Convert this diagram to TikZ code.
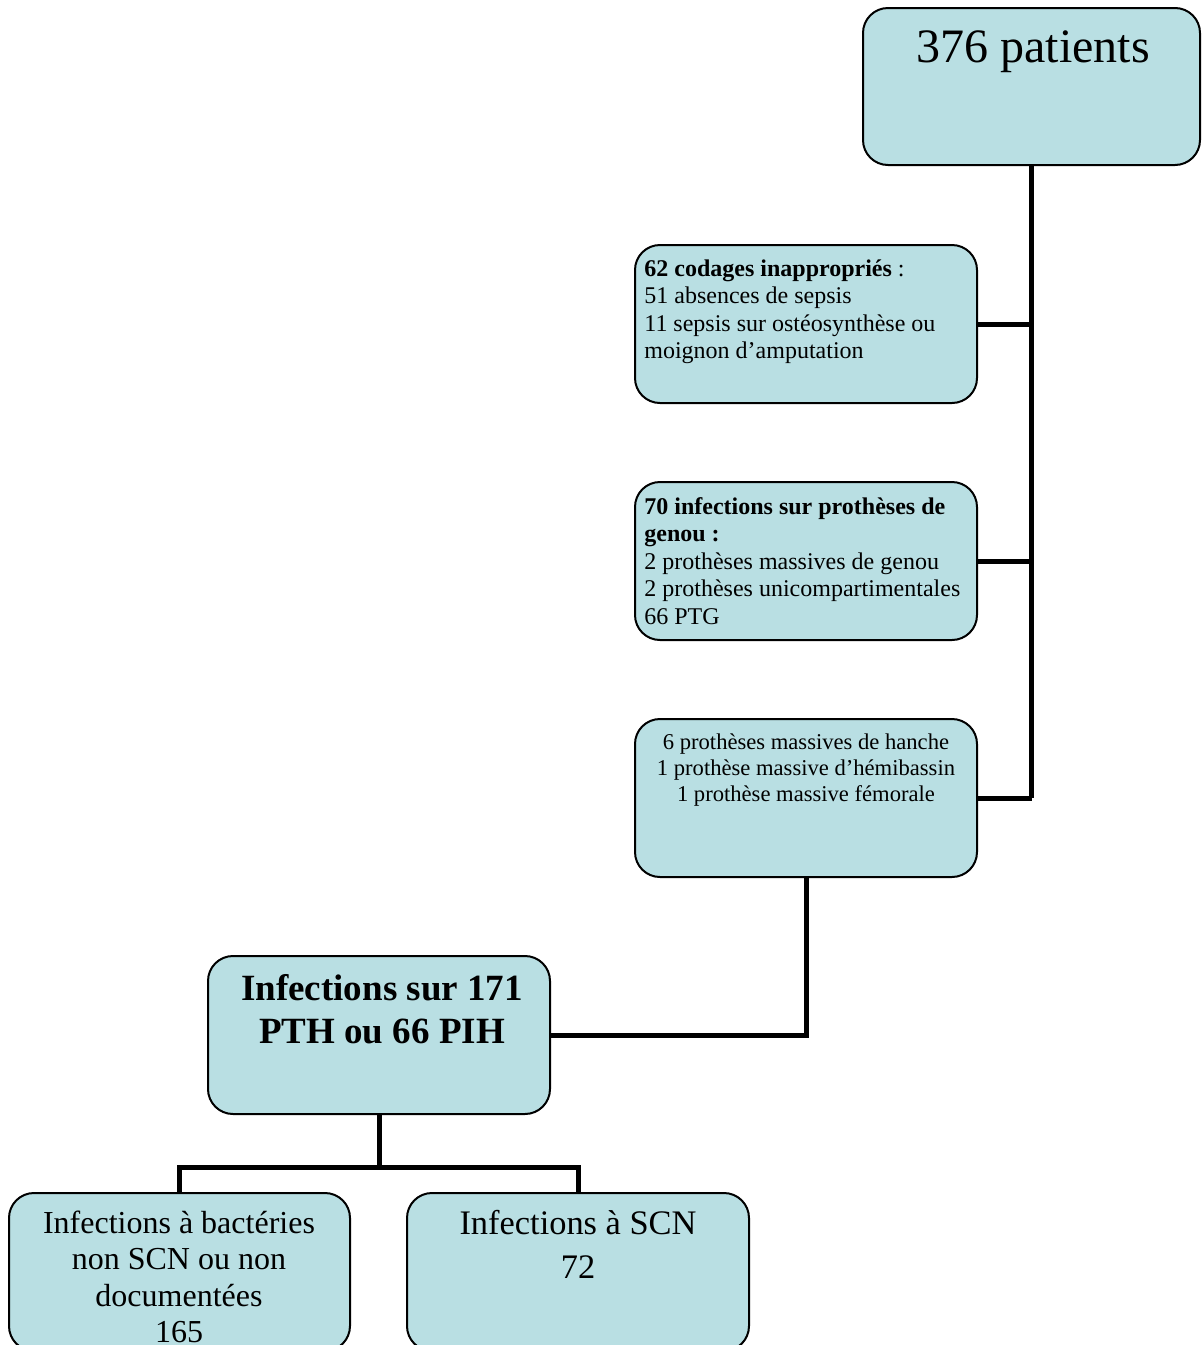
\documentclass[tikz,border=0pt]{standalone}
\usepackage{fontspec}
\setmainfont{Liberation Serif}
\definecolor{boxc}{RGB}{185,223,227}
\begin{document}
\begin{tikzpicture}[x=0.5pt,y=-0.5pt,
  bx/.style={draw=black, line width=1pt, fill=boxc, rounded corners=12.5pt, inner sep=0pt, minimum width=171pt, minimum height=79pt},
  txt/.style={inner sep=0pt},
  link/.style={line width=2.5pt, line join=miter}]
\useasboundingbox (0,0) rectangle (1201,1345);
\clip (0,0) rectangle (1201,1345);
% boxes
\node[bx, minimum width=168.5pt, minimum height=78.5pt] (top) at (1031.5,86.5) {};
\node[bx] (b2) at (806,324) {};
\node[bx] (b3) at (806,561) {};
\node[bx] (b4) at (806,798) {};
\node[bx] (b5) at (379,1035) {};
\node[bx, minimum width=170.5pt] (b6) at (179.5,1272) {};
\node[bx] (b7) at (578,1272) {};
% connectors
\draw[link] (top.south) -- (top.south |- b4.east);
\draw[link] (b2.east) -- (b2.east -| top.south);
\draw[link] (b3.east) -- (b3.east -| top.south);
\draw[link] (b4.east) -- (b4.east -| top.south);
\draw[link] (b4.south) |- (b5.east);
\coordinate (j) at (379,1167);
\draw[link] (b5.south) -- (j);
\draw[link] (b6.north) |- (j) -| (b7.north);
% texts
\node[txt, anchor=base] (t1) at (1033,62) {\fontsize{24}{28}\selectfont 376 patients};
\node[txt, anchor=base west] (t2) at (644,276) {\fontsize{12}{13.75}\selectfont\begin{tabular}[t]{@{}l@{}}\textbf{62 codages inappropriés} :\\51 absences de sepsis\\11 sepsis sur ostéosynthèse ou\\moignon d’amputation\end{tabular}};
\node[txt, anchor=base west] (t3) at (644,514) {\fontsize{12}{13.75}\selectfont\begin{tabular}[t]{@{}l@{}}\textbf{70 infections sur prothèses de}\\\textbf{genou :}\\2 prothèses massives de genou\\2 prothèses unicompartimentales\\66 PTG\end{tabular}};
\node[txt, anchor=base] (t4) at (806,749) {\fontsize{11.3}{13}\selectfont\begin{tabular}[t]{@{}c@{}}6 prothèses massives de hanche\\1 prothèse massive d’hémibassin\\1 prothèse massive fémorale\end{tabular}};
\node[txt, anchor=base] (t5) at (382,1000) {\fontsize{18.5}{21.5}\selectfont\bfseries\begin{tabular}[t]{@{}c@{}}Infections sur 171\\PTH ou 66 PIH\end{tabular}};
\node[txt, anchor=base] (t6) at (179,1233) {\fontsize{16}{18.25}\selectfont\begin{tabular}[t]{@{}c@{}}Infections à bactéries\\non SCN ou non\\documentées\\165\end{tabular}};
\node[txt, anchor=base] (t7) at (578,1234) {\fontsize{17.2}{22}\selectfont\begin{tabular}[t]{@{}c@{}}Infections à SCN\\72\end{tabular}};
\end{tikzpicture}
\end{document}
